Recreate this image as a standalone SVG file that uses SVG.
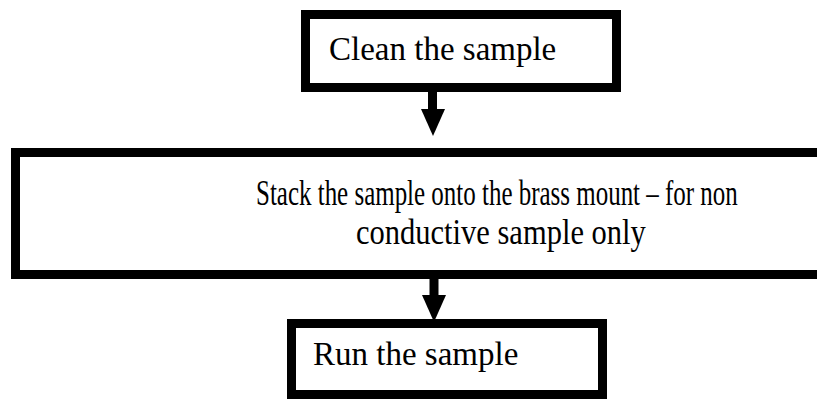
<svg xmlns="http://www.w3.org/2000/svg" width="817" height="399" viewBox="0 0 817 399">
<style>
.box{fill:#fff;stroke:#000;stroke-width:9}
.lbl{font-family:"Liberation Serif","Times New Roman",serif;font-size:33px;fill:#000}
.mid{font-size:35px}
.shaft{stroke:#000;stroke-width:9;fill:none}
.head{fill:#000}
</style>
<rect width="817" height="399" fill="#fff"/>
<g id="node-clean">
<rect class="box" x="305.5" y="14.5" width="311" height="73"/>
<text class="lbl" x="329" y="60">Clean the sample</text>
</g>
<g id="node-stack">
<rect class="box" x="15.5" y="152.5" width="820" height="122"/>
<text class="lbl mid" transform="translate(256 205) scale(0.7134 1)" x="0" y="0">Stack the sample onto the brass mount – for non</text>
<text class="lbl mid" transform="translate(356 244) scale(0.872 1)" x="0" y="0">conductive sample only</text>
</g>
<g id="node-run">
<rect class="box" x="291.5" y="323.5" width="311" height="71"/>
<text class="lbl" x="313" y="365">Run the sample</text>
</g>
<g id="connectors">
<line class="shaft" x1="432.5" y1="92" x2="432.5" y2="110"/>
<polygon class="head" points="421,109 445,109 433,136"/>
<line class="shaft" x1="434" y1="279" x2="434" y2="296"/>
<polygon class="head" points="422,295 446,295 434,322"/>
</g>
</svg>
